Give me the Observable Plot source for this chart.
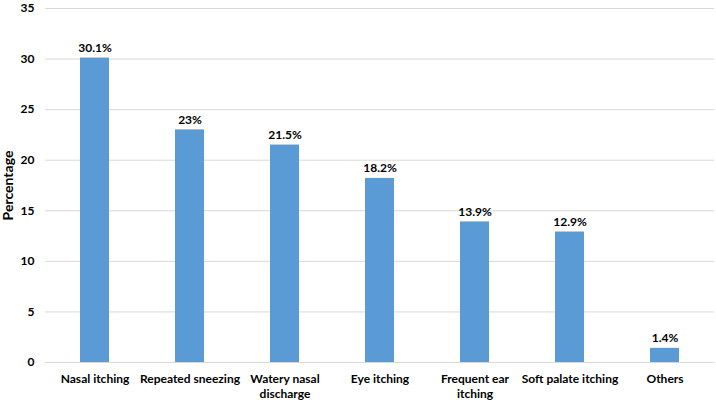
<!DOCTYPE html>
<html><head><meta charset="utf-8">
<script src="https://cdn.jsdelivr.net/npm/d3@7"></script>
<script src="https://cdn.jsdelivr.net/npm/@observablehq/plot@0.6"></script>
<style>body{margin:0;background:#fff}</style>
</head><body><div id="chart"></div>
<script>
const categories = ["Nasal itching","Repeated sneezing","Watery nasal\ndischarge","Eye itching","Frequent ear\nitching","Soft palate itching","Others"];
const values = [30.1, 23, 21.5, 18.2, 13.9, 12.9, 1.4];
const valueLabels = ["30.1%","23%","21.5%","18.2%","13.9%","12.9%","1.4%"];
const yTicks = [0,5,10,15,20,25,30,35];
const data = categories.map((c,i)=>({c, v: values[i], l: valueLabels[i]}));
const chart = Plot.plot({
  width: 716, height: 400,
  marginLeft: 45, marginRight: 2, marginTop: 8, marginBottom: 38,
  style: {fontFamily: "Lato, sans-serif", fontSize: "12px", fontWeight: "bold", color: "#000", overflow: "visible"},
  x: {domain: categories, paddingInner: 0.69, paddingOuter: 0.345, label: null, tickSize: 0},
  y: {domain: [0,35], ticks: yTicks, label: "Percentage", tickSize: 0},
  marks: [
    Plot.gridY(yTicks, {stroke: "#d9d9d9", strokeOpacity: 1}),
    Plot.barY(data, {x: "c", y: "v", fill: "#5b9bd5"}),
    Plot.text(data, {x: "c", y: "v", text: "l", dy: -10, fontWeight: "bold", fontSize: 12, fill: "#000"}),
    Plot.axisY({ticks: yTicks, tickSize: 0, tickPadding: 11, label: "Percentage", labelAnchor: "center", labelArrow: "none", labelOffset: 42, fontSize: 12, fontWeight: "bold"}),
    Plot.axisX({tickSize: 0, tickPadding: 10, label: null, lineHeight: 1.25, fontSize: 12, fontWeight: "bold"})
  ]
});
chart.querySelectorAll("[aria-label='y-axis label'] text").forEach(t=>{t.style.fontSize="14px";});
document.getElementById("chart").appendChild(chart);
</script></body></html>
